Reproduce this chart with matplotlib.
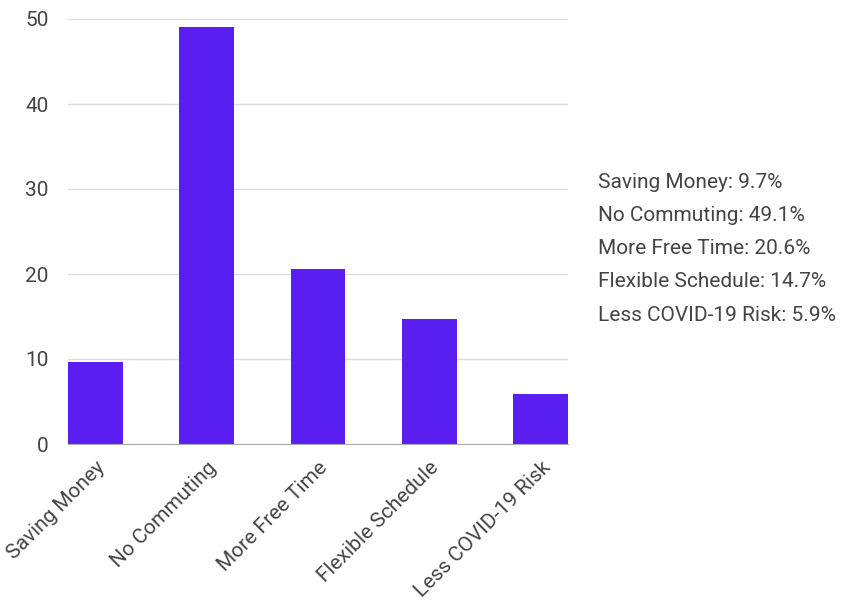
import matplotlib
matplotlib.use("Agg")
import matplotlib.pyplot as plt

categories = ["Saving Money", "No Commuting", "More Free Time",
              "Flexible Schedule", "Less COVID-19 Risk"]
values = [9.7, 49.1, 20.6, 14.7, 5.9]
yticks = [0, 10, 20, 30, 40, 50]

plt.rcParams['font.family'] = ['Roboto', 'DejaVu Sans']
text_color = "#444444"
bar_color = "#5b1ef0"

fig = plt.figure(figsize=(8.45, 6.05), dpi=100)
ax = fig.add_axes([68 / 845, 1 - 444 / 605, 500 / 845, 425 / 605])

x = list(range(len(categories)))
ax.bar(x, values, width=0.494, color=bar_color, zorder=3)
ax.set_xlim(-0.247, len(categories) - 1 + 0.247)
ax.set_ylim(0, 50)

ax.set_yticks(yticks)
ax.set_yticklabels([str(t) for t in yticks], fontsize=15, color=text_color)
ax.set_xticks(x)
ax.set_xticklabels(categories, rotation=45, ha="right", rotation_mode="anchor",
                   fontsize=15, color=text_color)
ax.tick_params(axis="both", length=0)
ax.tick_params(axis="y", pad=14)
ax.tick_params(axis="x", pad=10)

ax.grid(axis="y", color="#dddddd", linewidth=1, zorder=0)
for s in ["top", "right", "left"]:
    ax.spines[s].set_visible(False)
ax.spines["bottom"].set_color("#aaaaaa")
ax.spines["bottom"].set_zorder(4)

# legend-like summary on the right
for i, (c, v) in enumerate(zip(categories, values)):
    fig.text(598 / 845, 1 - (182 + i * 33.3) / 605, f"{c}: {v}%",
             fontsize=15, color=text_color, va="center", ha="left")

fig.savefig("out.png", dpi=100)
